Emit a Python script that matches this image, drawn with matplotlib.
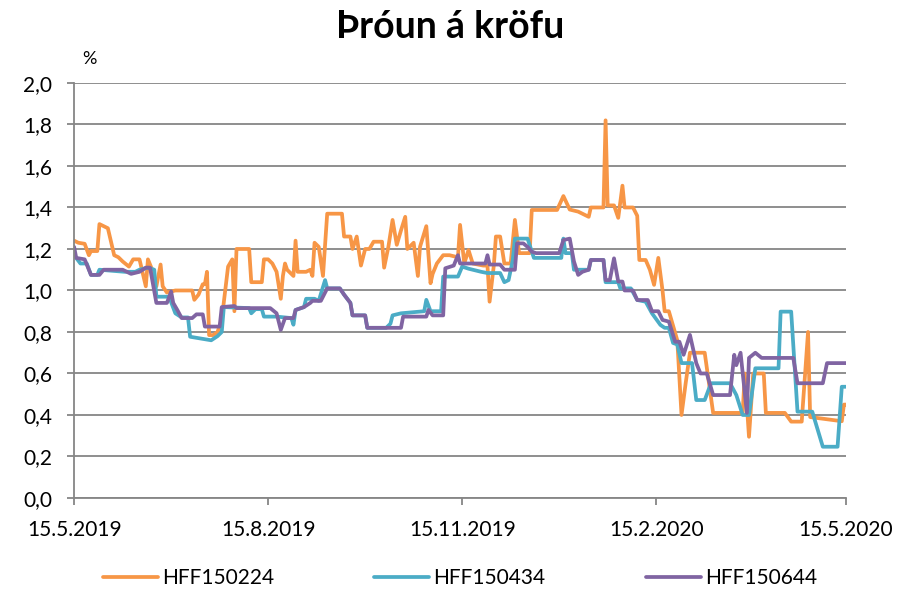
import matplotlib.pyplot as plt
import matplotlib.ticker as mticker
import matplotlib.dates as mdates
import pandas as pd

plt.rcParams['font.family'] = ['Lato', 'DejaVu Sans']

upphaf = pd.Timestamp("2019-05-15")

# Krafa (%) eftir dögum frá 15.5.2019
dagar_224 = [0, 2, 5, 7, 8, 11, 12, 14, 16, 19, 21, 23, 26, 28, 31, 34, 35, 37, 39, 41,
             42, 44, 48, 56, 57, 59, 61, 62, 63, 64, 66, 68, 70, 73, 75, 76, 77, 83, 84, 89,
             90, 92, 94, 96, 98, 99, 100, 101, 104, 105, 106, 110, 112, 113, 114, 115, 116, 118, 120, 127,
             128, 131, 132, 134, 136, 138, 140, 142, 146, 147, 149, 151, 153, 155, 157, 158, 161, 163, 164, 167,
             169, 170, 172, 175, 178, 182, 183, 185, 187, 189, 194, 196, 197, 199, 200, 202, 204, 207, 209, 211,
             216, 217, 229, 232, 235, 239, 244, 245, 251, 252, 253, 256, 258, 260, 261, 265, 267, 268, 271, 273,
             275, 277, 279, 280, 282, 286, 288, 290, 292, 299, 303, 317, 318, 320, 322, 327, 328, 337, 340, 345,
             348, 349, 364, 365, 366]
krafa_224 = [1.24, 1.23, 1.225, 1.17, 1.19, 1.19, 1.32, 1.31, 1.30, 1.17, 1.16, 1.14, 1.115, 1.15, 1.15, 1.02, 1.15, 1.10, 1.02, 1.125,
             1.02, 0.99, 1.0, 1.0, 0.955, 0.98, 1.03, 1.03, 1.09, 0.785, 0.785, 0.80, 0.86, 1.115, 1.15, 0.90, 1.20, 1.20, 1.04, 1.04,
             1.15, 1.15, 1.13, 1.09, 0.96, 1.07, 1.13, 1.10, 1.07, 1.24, 1.09, 1.09, 1.10, 1.07, 1.23, 1.22, 1.21, 1.07, 1.37, 1.37,
             1.26, 1.26, 1.20, 1.26, 1.12, 1.20, 1.20, 1.235, 1.235, 1.11, 1.21, 1.34, 1.22, 1.29, 1.355, 1.20, 1.23, 1.07, 1.21, 1.31,
             1.035, 1.08, 1.13, 1.17, 1.17, 1.16, 1.316, 1.13, 1.195, 1.13, 1.12, 1.12, 0.946, 1.12, 1.26, 1.26, 1.13, 1.13, 1.34, 1.18,
             1.18, 1.388, 1.388, 1.455, 1.39, 1.38, 1.355, 1.40, 1.40, 1.82, 1.41, 1.41, 1.35, 1.505, 1.40, 1.40, 1.36, 1.147, 1.147, 1.10,
             1.027, 1.157, 1.0, 0.90, 0.90, 0.76, 0.40, 0.555, 0.70, 0.70, 0.41, 0.41, 0.60, 0.295, 0.60, 0.60, 0.41, 0.41, 0.368, 0.368,
             0.80, 0.39, 0.37, 0.45, 0.45]

dagar_434 = [0, 3, 6, 8, 11, 12, 24, 29, 31, 35, 38, 39, 45, 48, 51, 54, 55, 65, 68, 70,
             71, 83, 84, 86, 89, 90, 96, 103, 104, 105, 109, 110, 114, 116, 119, 120, 126, 128, 131, 132,
             138, 139, 148, 150, 151, 155, 166, 167, 169, 174, 175, 182, 184, 187, 193, 196, 202, 204, 206, 208,
             209, 215, 218, 231, 232, 233, 236, 237, 244, 245, 251, 252, 258, 259, 264, 267, 271, 274, 278, 280,
             282, 284, 286, 288, 293, 295, 299, 302, 311, 314, 317, 320, 323, 334, 335, 340, 343, 350, 355, 362,
             364, 366]
krafa_434 = [1.17, 1.13, 1.13, 1.075, 1.075, 1.10, 1.09, 1.09, 1.10, 1.11, 1.10, 0.97, 0.97, 0.89, 0.87, 0.87, 0.777, 0.76, 0.78, 0.80,
             0.92, 0.915, 0.89, 0.91, 0.91, 0.874, 0.874, 0.867, 0.835, 0.906, 0.92, 0.96, 0.96, 0.95, 1.05, 1.01, 1.01, 0.98, 0.94, 0.88,
             0.88, 0.82, 0.82, 0.84, 0.88, 0.89, 0.90, 0.955, 0.90, 0.90, 1.067, 1.067, 1.115, 1.105, 1.09, 1.084, 1.084, 1.04, 1.05, 1.147,
             1.25, 1.25, 1.157, 1.157, 1.25, 1.18, 1.18, 1.10, 1.10, 1.147, 1.147, 1.04, 1.04, 1.01, 1.01, 0.954, 0.946, 0.89, 0.834, 0.82,
             0.82, 0.747, 0.74, 0.65, 0.65, 0.472, 0.472, 0.553, 0.553, 0.496, 0.40, 0.40, 0.625, 0.625, 0.898, 0.898, 0.416, 0.416, 0.247, 0.247,
             0.536, 0.536]

dagar_644 = [0, 1, 5, 7, 8, 12, 14, 23, 27, 31, 34, 36, 39, 44, 46, 47, 49, 51, 56, 58,
             61, 62, 69, 70, 76, 77, 93, 96, 98, 100, 104, 105, 109, 112, 113, 117, 120, 126, 128, 131,
             132, 138, 139, 155, 156, 167, 168, 170, 175, 176, 180, 182, 183, 195, 196, 197, 202, 204, 209, 210,
             213, 215, 217, 219, 230, 232, 235, 237, 239, 241, 244, 245, 251, 252, 254, 256, 258, 260, 261, 265,
             267, 272, 274, 277, 279, 282, 285, 287, 289, 292, 295, 297, 300, 303, 311, 313, 314, 316, 319, 320,
             323, 326, 341, 343, 355, 357, 366]
krafa_644 = [1.21, 1.157, 1.15, 1.10, 1.075, 1.075, 1.10, 1.10, 1.08, 1.09, 1.11, 1.11, 0.94, 0.94, 0.995, 0.94, 0.905, 0.867, 0.867, 0.885,
             0.885, 0.826, 0.826, 0.92, 0.925, 0.915, 0.915, 0.89, 0.81, 0.867, 0.867, 0.906, 0.92, 0.94, 0.95, 0.95, 1.01, 1.01, 0.98, 0.94,
             0.88, 0.88, 0.82, 0.82, 0.874, 0.874, 0.906, 0.88, 0.88, 1.107, 1.12, 1.17, 1.13, 1.13, 1.17, 1.125, 1.125, 1.10, 1.10, 1.227,
             1.227, 1.21, 1.187, 1.18, 1.18, 1.243, 1.25, 1.14, 1.075, 1.09, 1.10, 1.147, 1.147, 1.05, 1.05, 1.155, 1.043, 1.043, 1.0, 1.0,
             0.954, 0.954, 0.90, 0.90, 0.858, 0.85, 0.753, 0.753, 0.69, 0.786, 0.65, 0.60, 0.60, 0.496, 0.496, 0.69, 0.64, 0.70, 0.41, 0.675,
             0.70, 0.675, 0.675, 0.553, 0.553, 0.65, 0.65]

raðir = [
    ("HFF150224", dagar_224, krafa_224, "#F79646"),
    ("HFF150434", dagar_434, krafa_434, "#4BACC6"),
    ("HFF150644", dagar_644, krafa_644, "#8064A2"),
]

merki_dags = ["2019-05-15", "2019-08-15", "2019-11-15", "2020-02-15", "2020-05-15"]

grar = "#868686"

fig = plt.figure(figsize=(9.15, 5.91), dpi=100)
ax = fig.add_axes([0.081, 0.1574, 0.8436, 0.7022])

for nafn, dagar, krafa, litur in raðir:
    dags = upphaf + pd.to_timedelta(dagar, unit="D")
    ax.plot(dags, krafa, color=litur, lw=2.7, label=nafn,
            solid_joinstyle="round", solid_capstyle="round")

ax.set_ylim(0, 2.0)
ax.set_xlim(pd.Timestamp(merki_dags[0]), pd.Timestamp(merki_dags[-1]))
ax.set_yticks([i / 5 for i in range(11)])
ax.yaxis.set_major_formatter(mticker.FuncFormatter(lambda v, p: f"{v:.1f}".replace(".", ",")))

ax.set_xticks([pd.Timestamp(d) for d in merki_dags])
ax.xaxis.set_major_formatter(mticker.FuncFormatter(
    lambda v, p: f"{mdates.num2date(v).day}.{mdates.num2date(v).month}.{mdates.num2date(v).year}"))

ax.yaxis.grid(True, color=grar, lw=1.3)
ax.set_axisbelow(True)
for s in ["top", "right"]:
    ax.spines[s].set_visible(False)
for s in ["left", "bottom"]:
    ax.spines[s].set_color(grar)
    ax.spines[s].set_linewidth(1.3)
ax.tick_params(axis="y", length=5, width=1.3, color=grar, pad=11, labelsize=15)
ax.tick_params(axis="x", length=5, width=1.3, color=grar, pad=11, labelsize=15)

fig.text(450 / 915, 1 - 27 / 591, "Þróun á kröfu", ha="center", va="center",
         fontsize=27, fontweight="bold")
fig.text(89 / 915, 1 - 59 / 591, "%", ha="center", va="center", fontsize=13)

fig.legend(loc="center", bbox_to_anchor=(460 / 915, 1 - 578 / 591), ncol=3,
           frameon=False, fontsize=15, handlelength=2.65, handletextpad=0.2,
           columnspacing=4.8)

fig.savefig("out.png", dpi=100)
plt.close(fig)
